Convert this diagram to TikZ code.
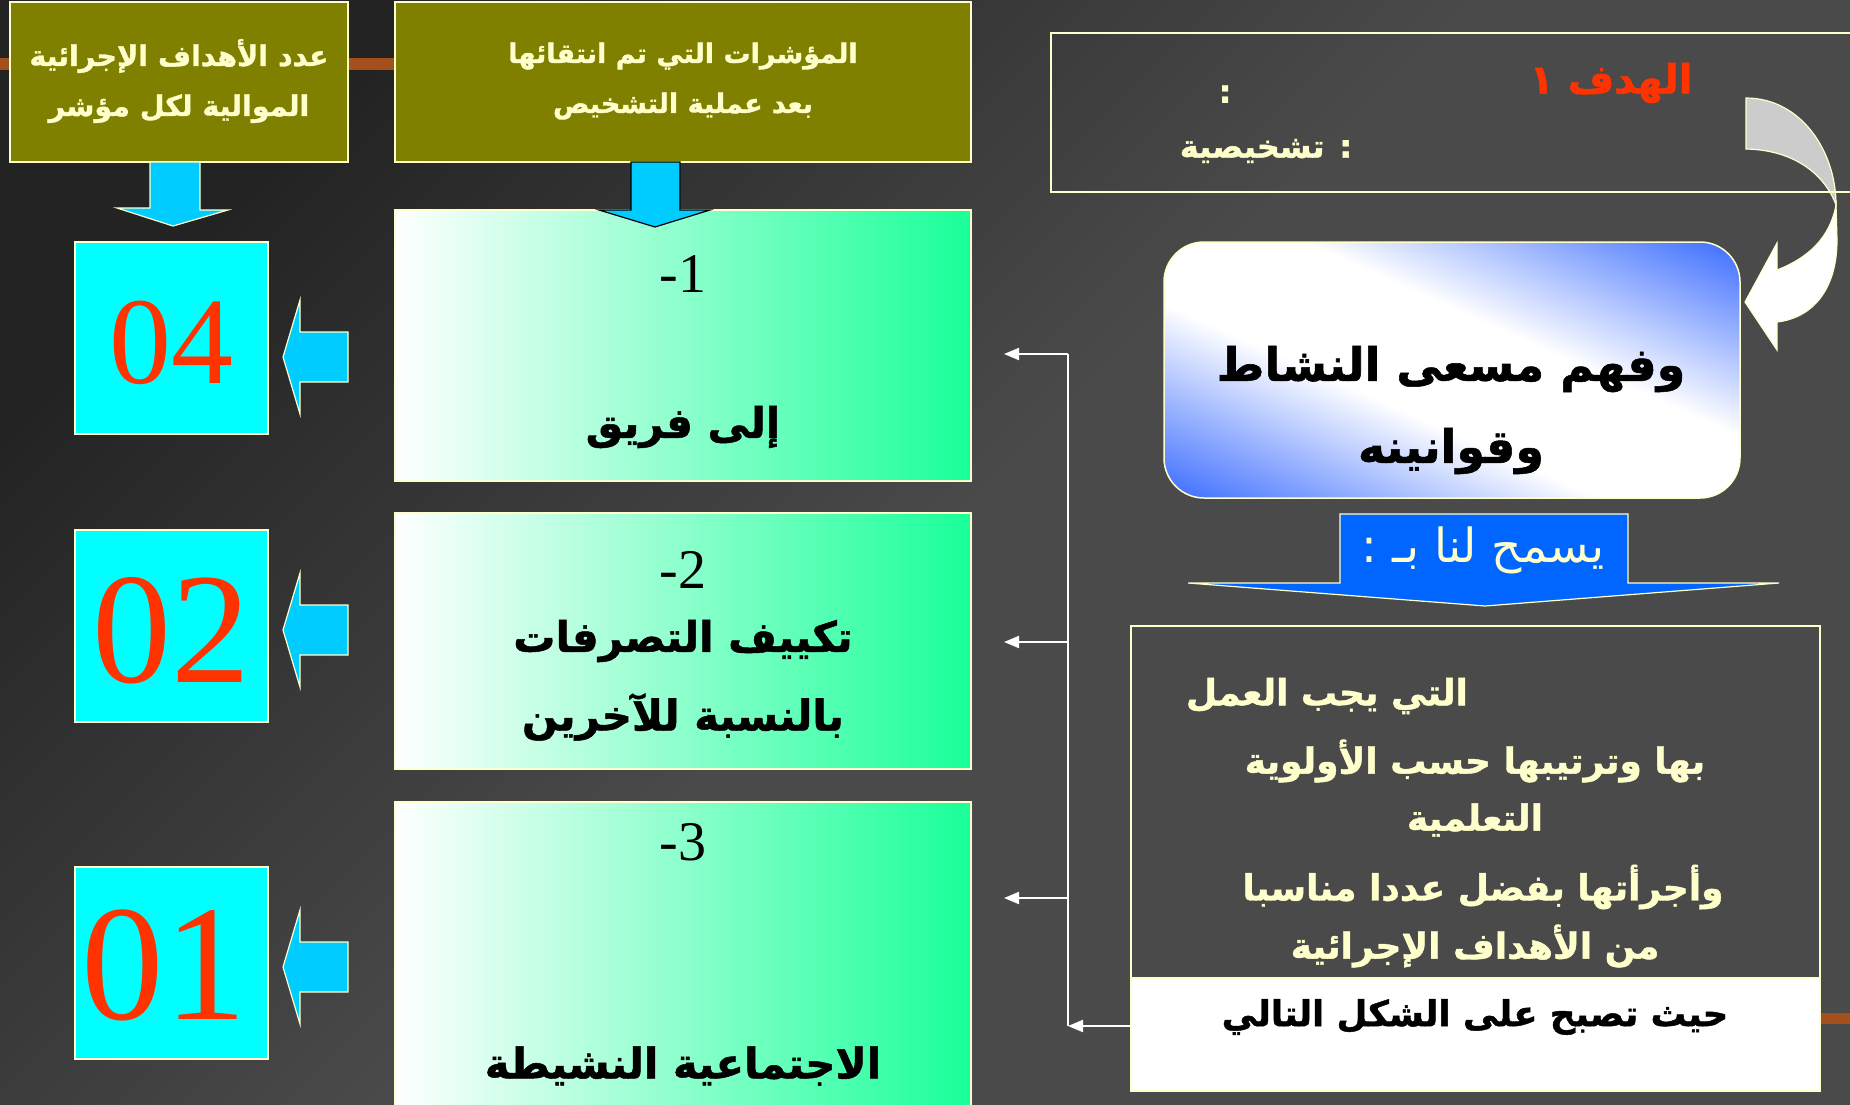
\documentclass[tikz,border=0pt]{standalone}
\usepackage{fontspec}
\setmainfont{Liberation Serif}
\newfontfamily\arabicfont[Script=Arabic,BoldFeatures={FakeBold=1.2}]{DejaVu Sans}
\TeXXeTstate=1
\usetikzlibrary{arrows.meta}

\definecolor{paleyellow}{HTML}{FFFFCC}
\definecolor{olivefill}{HTML}{808000}
\definecolor{cyanfill}{HTML}{00FFFF}
\definecolor{arrowblue}{HTML}{00CCFF}
\definecolor{numred}{HTML}{FF3300}
\definecolor{mintgreen}{HTML}{19FF99}
\definecolor{bannerblue}{HTML}{0066FF}
\definecolor{roundblue}{HTML}{3366FF}
\definecolor{twistgray}{HTML}{CCCCCC}
\definecolor{bgmain}{HTML}{4A4A4A}
\definecolor{bgdark}{HTML}{232323}
\definecolor{rust}{HTML}{A4501C}

\pgfdeclareverticalshading{graspshade}{100bp}{color(0bp)=(roundblue); color(16bp)=(roundblue);
  color(42bp)=(white); color(58bp)=(white); color(84bp)=(roundblue); color(100bp)=(roundblue)}

\newcommand{\artext}[1]{\beginR#1\endR}

\begin{document}
\begin{tikzpicture}[x=1pt,y=1pt,yscale=-1,
  every node/.style={inner sep=0pt},
  frame/.style={draw=paleyellow,line width=1.5pt},
  olivebox/.style={frame,fill=olivefill,minimum height=160pt},
  greenbox/.style={frame,left color=white,right color=mintgreen,minimum width=576pt},
  numbox/.style={frame,fill=cyanfill,minimum width=193pt,minimum height=192pt},
  numtext/.style={text=numred},
  blockarrow/.style={fill=arrowblue,draw=paleyellow,line width=1.2pt},
  headtext/.style={font={\arabicfont\bfseries\fontsize{27}{50}\selectfont},text=paleyellow,align=center},
  itemtext/.style={font={\arabicfont\bfseries\fontsize{42}{52}\selectfont}},
  itemnum/.style={font={\fontsize{56}{60}\selectfont}},
  tasktext/.style={font={\arabicfont\bfseries\fontsize{36}{40}\selectfont},text=paleyellow},
  link/.style={draw=white,line width=2pt,-{Triangle[length=15pt,width=12pt]}},
  wire/.style={draw=white,line width=2pt}]

\useasboundingbox (0,0) rectangle (1850,1104);
\clip (0,0) rectangle (1850,1104);

% background
\shade[top color=bgdark,bottom color=bgmain,middle color=bgmain,shading angle=45] (0,0) rectangle (1850,1104);
\fill[rust] (0,58) rectangle (395,70);
\fill[rust] (1815,1013) rectangle (1850,1024);

% headers
\node[olivebox,minimum width=338pt] (hdrcount) at (179,82) {};
\node[headtext,font={\arabicfont\bfseries\fontsize{28.5}{50}\selectfont}] (hdrcounttxt) at (179,81) {\artext{عدد الأهداف الإجرائية}\\\artext{الموالية لكل مؤشر}};
\node[olivebox,minimum width=576pt] (hdrind) at (683,82) {};
\node[headtext] (hdrindtxt) at (683,81) {\artext{المؤشرات التي تم انتقائها}\\\artext{بعد عملية التشخيص}};

% indicator boxes
\node[greenbox,minimum height=271pt] (ind1) at (683,345.5) {};
\node[greenbox,minimum height=256pt] (ind2) at (683,641) {};
\node[greenbox,minimum height=308pt] (ind3) at (683,956) {};

\node[itemnum] (n1) at (683,274) {-1};
\node[itemtext] (t1) at (683,427) {\artext{إلى فريق}};
\node[itemnum] (n2) at (683,570) {-2};
\node[itemtext] (t2a) at (683,641) {\artext{تكييف التصرفات}};
\node[itemtext] (t2b) at (683,717) {\artext{بالنسبة للآخرين}};
\node[itemnum] (n3) at (683,842) {-3};
\node[itemtext] (t3) at (683,1066) {\artext{الاجتماعية النشيطة}};

% count boxes
\node[numbox] (cnt1) at (171.5,338) {};
\node[numbox] (cnt2) at (171.5,626) {};
\node[numbox] (cnt3) at (171.5,963) {};
\node[numtext,font={\fontsize{124}{124}\selectfont}] (v1) at (171,343) {04};
\node[numtext,font={\fontsize{158}{158}\selectfont}] (v2) at (171,631) {02};
\node[numtext,font={\fontsize{165}{165}\selectfont}] (v3) at (164,965) {01};

% down arrows
\draw[blockarrow] (150,162) -- (200,162) -- (200,210) -- (228,210) -- (173,226) -- (117,208) -- (150,208) -- cycle;
\draw[blockarrow,draw=black] (631,162) -- (680,162) -- (680,210) -- (710,210) -- (655,227) -- (599,210) -- (631,210) -- cycle;

% left arrows
\foreach \yy in {357,630,967}
  \draw[blockarrow] (348,\yy-25) -- (300,\yy-25) -- (300,\yy-57) -- (283,\yy) -- (300,\yy+57) -- (300,\yy+25) -- (348,\yy+25) -- cycle;

% curved arrow
\filldraw[fill=twistgray,draw=paleyellow,line width=1.2pt]
  (1746,98) .. controls (1800,98) and (1836,150) .. (1836,205)
  .. controls (1825,175) and (1795,150) .. (1746,149) -- cycle;
\filldraw[fill=white,draw=paleyellow,line width=1.2pt]
  (1836,205) -- (1837,240) .. controls (1837,290) and (1812,318) .. (1777,322)
  -- (1777,350) -- (1745,302) -- (1777,243) -- (1777,270)
  .. controls (1808,258) and (1830,238) .. (1836,205) -- cycle;

% goal box
\node[frame,minimum width=819pt,minimum height=159pt] (goal) at (1460.5,112.5) {};
\node[font={\arabicfont\bfseries\fontsize{40}{44}\selectfont},text=numred] (goalname) at (1611,83) {\artext{الهدف ١}};
\node[font={\arabicfont\bfseries\fontsize{32}{36}\selectfont},text=paleyellow] (goalcolon) at (1225,94) {:};
\node[font={\arabicfont\bfseries\fontsize{32}{36}\selectfont},text=paleyellow] (goaltype) at (1266,151) {\artext{: تشخيصية}};

% understanding box
\node[frame,rounded corners=40pt,minimum width=576pt,minimum height=256pt,
  shade,shading=graspshade,shading angle=-24] (grasp) at (1452,370) {};
\node[font={\arabicfont\bfseries\fontsize{46}{50}\selectfont}] (grasp1) at (1451,369) {\artext{وفهم مسعى النشاط}};
\node[font={\arabicfont\bfseries\fontsize{46}{50}\selectfont}] (grasp2) at (1451,451) {\artext{وقوانينه}};

% banner
\draw[fill=bannerblue,draw=paleyellow,line width=1.2pt] (1340,514) -- (1628,514) -- (1628,583) -- (1779,583) -- (1485,606) -- (1188,583) -- (1340,583) -- cycle;
\node[font={\arabicfont\fontsize{47}{50}\selectfont},text=paleyellow] (allow) at (1483,550) {\artext{يسمح لنا بـ :}};

% tasks box
\node[frame,minimum width=689pt,minimum height=465pt] (tasks) at (1475.5,858.5) {};
\node[tasktext] (task1) at (1327,696) {\artext{التي يجب العمل}};
\node[tasktext] (task2) at (1475,761) {\artext{بها وترتيبها حسب الأولوية}};
\node[tasktext] (task3) at (1475,820) {\artext{التعلمية}};
\node[tasktext] (task4) at (1483,887) {\artext{وأجرأتها بفضل عددا مناسبا}};
\node[tasktext] (task5) at (1475,946) {\artext{من الأهداف الإجرائية}};
\node[frame,fill=white,minimum width=689pt,minimum height=113pt] (fin) at (1475.5,1034.5) {};
\node[font={\arabicfont\bfseries\fontsize{35.5}{40}\selectfont}] (fintxt) at (1475,1017) {\artext{حيث تصبح على الشكل التالي}};

% connectors
\coordinate (trunkbot) at (1068,1026);
\coordinate (trunktop) at (1068,354);
\coordinate (tip1) at (1004,354);
\coordinate (tip2) at (1004,642);
\coordinate (tip3) at (1004,898);
\draw[link] (fin.west |- trunkbot) -- (trunkbot);
\draw[wire] (trunkbot) -- (trunktop);
\foreach \n in {1,2,3}
  \draw[link] (trunkbot |- tip\n) -- (tip\n);

\end{tikzpicture}
\end{document}
